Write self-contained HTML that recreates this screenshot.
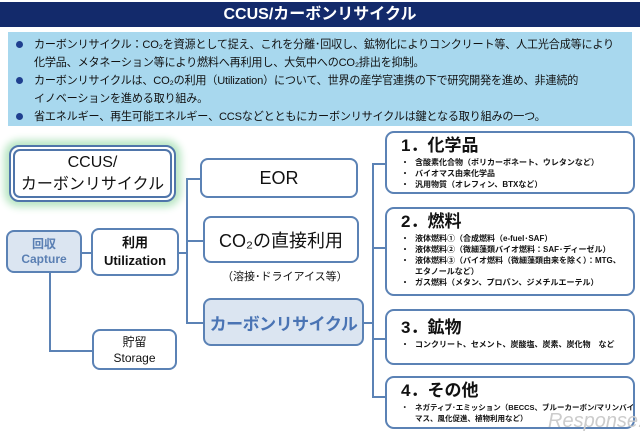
<!DOCTYPE html>
<html><head><meta charset="utf-8"><style>
*{box-sizing:border-box;margin:0;padding:0}
body{width:640px;height:443px;background:#fff;position:relative;overflow:hidden;font-family:"Liberation Sans","Noto Sans CJK JP",sans-serif;color:#111}
.a{position:absolute}
.hdr{left:0;top:2px;width:640px;height:25px;background:#132a6b;color:#fff;font-weight:bold;font-size:16px;text-align:center;line-height:25px}
.info{left:8px;top:32px;width:624px;height:94px;background:#a8d8ee;overflow:hidden}
.info p{position:absolute;left:26px;font-size:11.1px;line-height:18px;white-space:nowrap;letter-spacing:-0.2px}
.info .d{position:absolute;left:-18px;top:5px;width:7px;height:7px;border-radius:50%;background:#1f3f8f}
.box{position:absolute;border:2px solid #5b82b5;border-radius:8px;background:#fff;text-align:center;display:flex;align-items:center;justify-content:center;flex-direction:column}
.ln{position:absolute;background:#5b82b5}
.rb{position:absolute;left:385px;width:250px;border:2px solid #5b82b5;border-radius:9px;background:#fff;padding:2px 0 0 14px;overflow:hidden}
.rb h3{font-size:17px;font-weight:bold;line-height:22px}
.rb ul{list-style:none;font-size:8px;font-weight:bold;line-height:11px;white-space:nowrap}
.rb li{padding-left:14px;position:relative}
.rb li.b:before{content:"・";position:absolute;left:0}
</style></head><body>
<div class="a hdr">CCUS/カーボンリサイクル</div>
<div class="a info">
<p style="top:4px"><span class="d"></span>カーボンリサイクル：CO₂を資源として捉え、これを分離･回収し、鉱物化によりコンクリート等、人工光合成等により<br>化学品、メタネーション等により燃料へ再利用し、大気中へのCO₂排出を抑制。</p>
<p style="top:40px"><span class="d"></span>カーボンリサイクルは、CO₂の利用（Utilization）について、世界の産学官連携の下で研究開発を進め、非連続的<br>イノベーションを進める取り組み。</p>
<p style="top:76px"><span class="d"></span>省エネルギー、再生可能エネルギー、CCSなどとともにカーボンリサイクルは鍵となる取り組みの一つ。</p>
</div>

<div class="ln" style="left:186px;top:178px;width:2px;height:146px"></div>
<div class="ln" style="left:186px;top:178px;width:14px;height:2px"></div>
<div class="ln" style="left:186px;top:240px;width:17px;height:2px"></div>
<div class="ln" style="left:186px;top:322px;width:17px;height:2px"></div>
<div class="ln" style="left:178px;top:252px;width:10px;height:2px"></div>
<div class="ln" style="left:82px;top:252px;width:10px;height:2px"></div>
<div class="ln" style="left:49px;top:272px;width:2px;height:80px"></div>
<div class="ln" style="left:49px;top:350px;width:43px;height:2px"></div>
<div class="ln" style="left:372px;top:163px;width:2px;height:235px"></div>
<div class="ln" style="left:363px;top:322px;width:10px;height:2px"></div>
<div class="ln" style="left:372px;top:163px;width:14px;height:2px"></div>
<div class="ln" style="left:372px;top:247px;width:14px;height:2px"></div>
<div class="ln" style="left:372px;top:338px;width:14px;height:2px"></div>
<div class="ln" style="left:372px;top:396px;width:14px;height:2px"></div>

<div class="box" style="left:9px;top:145px;width:167px;height:57px;border:2px solid #4f75aa;box-shadow:0 0 8px 5px #b9e6c4;border-radius:10px">
<div style="position:absolute;inset:2px;border:2px solid #4f75aa;border-radius:7px"></div>
<div style="font-size:16px;line-height:22px">CCUS/<br>カーボンリサイクル</div></div>
<div class="box" style="left:200px;top:158px;width:158px;height:40px;font-size:18px">EOR</div>
<div class="box" style="left:203px;top:216px;width:156px;height:47px;font-size:18px">CO₂の直接利用</div>
<div class="a" style="left:222px;top:268px;font-size:11px">（溶接･ドライアイス等）</div>
<div class="box" style="left:203px;top:298px;width:161px;height:48px;background:#dbe5f1;color:#4a74b4;font-weight:bold;font-size:17px;letter-spacing:-0.5px">カーボンリサイクル</div>
<div class="box" style="left:6px;top:230px;width:76px;height:43px;background:#dbe5f1;color:#5a7fb3;font-weight:bold;font-size:12px;line-height:15px">回収<br>Capture</div>
<div class="box" style="left:91px;top:228px;width:88px;height:48px;font-weight:bold;font-size:13px;line-height:18px">利用<br>Utilization</div>
<div class="box" style="left:92px;top:329px;width:85px;height:41px;font-size:12px;line-height:16px">貯留<br>Storage</div>

<div class="rb" style="top:131px;height:63px"><h3>1．化学品</h3><ul>
<li class="b">含酸素化合物（ポリカーボネート、ウレタンなど）</li><li class="b">バイオマス由来化学品</li><li class="b">汎用物質（オレフィン、BTXなど）</li></ul></div>
<div class="rb" style="top:207px;height:89px"><h3>2．燃料</h3><ul>
<li class="b">液体燃料①（合成燃料（e-fuel･SAF）</li><li class="b">液体燃料②（微細藻類バイオ燃料：SAF･ディーゼル）</li><li class="b">液体燃料③（バイオ燃料（微細藻類由来を除く）：MTG、<br>エタノールなど）</li><li class="b">ガス燃料（メタン、プロパン、ジメチルエーテル）</li></ul></div>
<div class="rb" style="top:309px;height:56px;padding-top:6px"><h3>3．鉱物</h3><ul>
<li class="b">コンクリート、セメント、炭酸塩、炭素、炭化物　など</li></ul></div>
<div class="rb" style="top:376px;height:53px"><h3>4．その他</h3><ul style="font-size:7.5px">
<li class="b">ネガティブ･エミッション（BECCS、ブルーカーボン/マリンバイオ<br>マス、風化促進、植物利用など）</li></ul></div>
<div class="a" style="left:548px;top:410px;font-size:20px;color:#ccc;font-style:italic">Response.</div>
</body></html>
